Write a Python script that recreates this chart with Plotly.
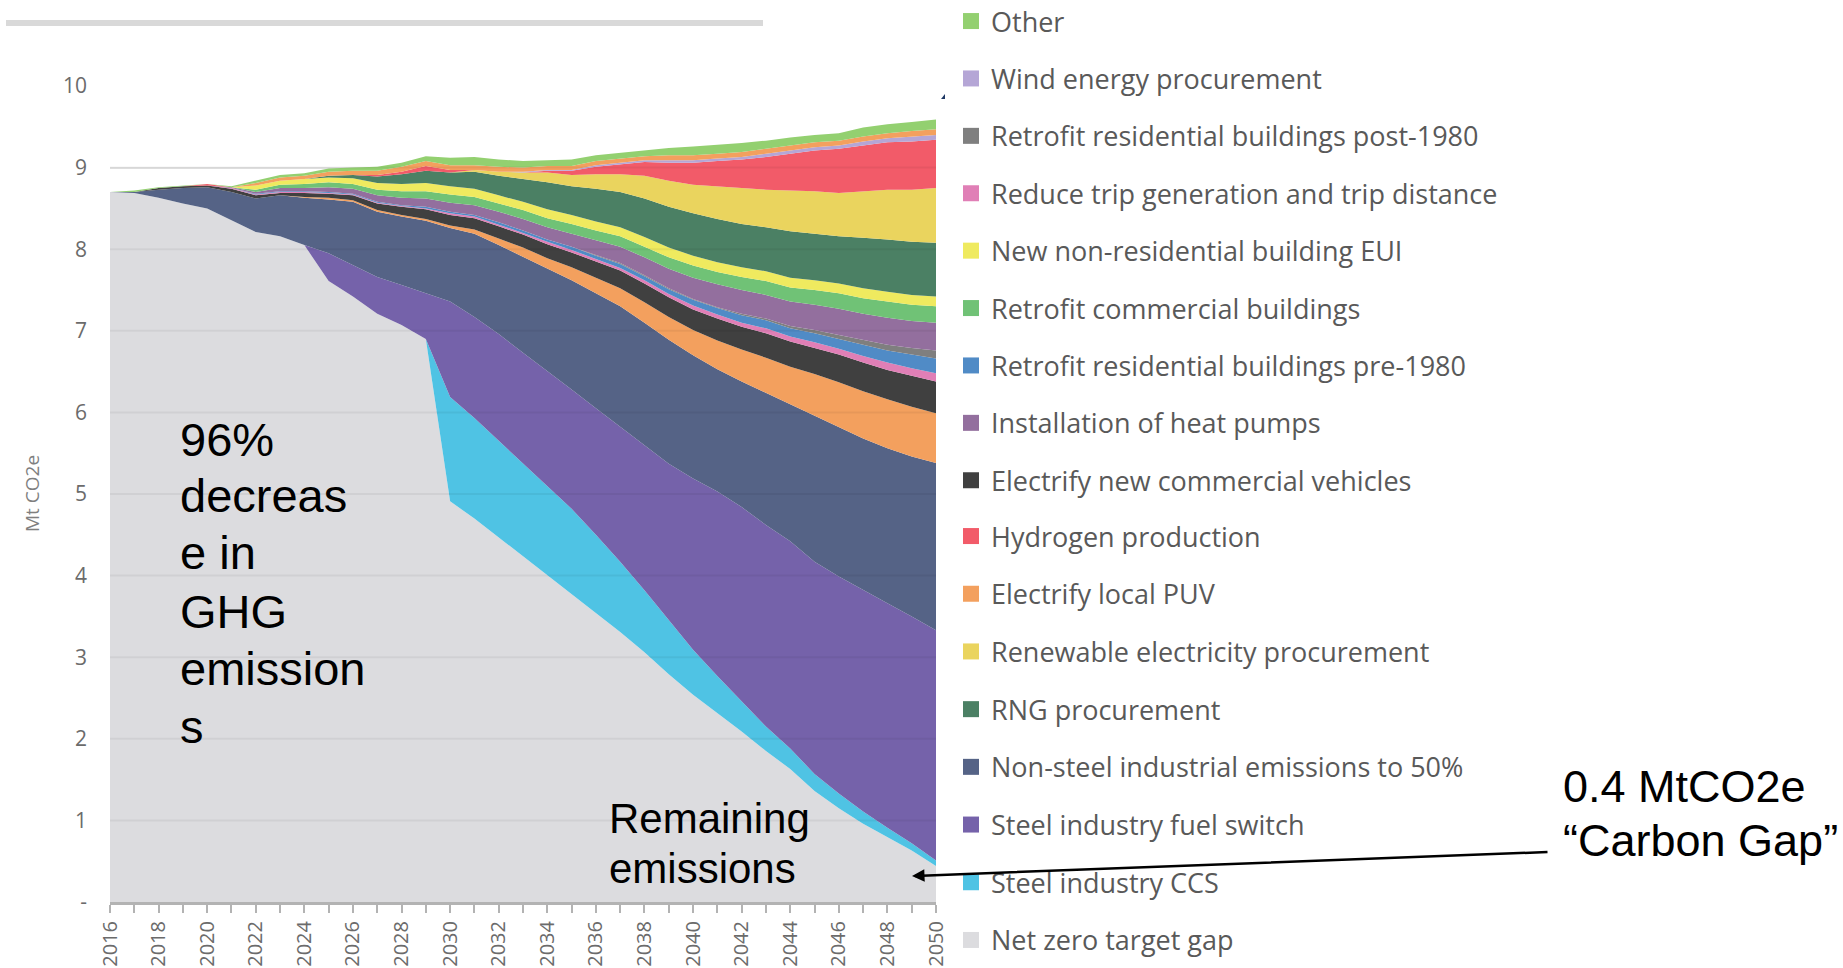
import plotly.graph_objects as go

W, H = 1843, 968

years = list(range(2016, 2051))

# Stacked layers, bottom to top (Mt CO2e per year, 2016-2050)
net_zero_gap = [8.70, 8.69, 8.63, 8.56, 8.50, 8.36, 8.21, 8.16, 8.05, 7.61, 7.42, 7.21, 7.07, 6.90,
                4.91, 4.70, 4.47, 4.24, 4.01, 3.78, 3.54, 3.31, 3.06, 2.79, 2.54, 2.32, 2.09, 1.85,
                1.63, 1.36, 1.15, 0.96, 0.79, 0.63, 0.44]
steel_ccs = [0]*14 + [1.28, 1.23, 1.18, 1.14, 1.09, 1.04, 0.96, 0.86, 0.76, 0.66, 0.55, 0.45, 0.37,
                      0.30, 0.25, 0.21, 0.18, 0.15, 0.12, 0.09, 0.07]
steel_fuel_switch = [0]*9 + [0.34, 0.38, 0.45, 0.49, 0.56, 1.17, 1.24, 1.31, 1.35, 1.41, 1.46, 1.55,
                             1.65, 1.78, 1.92, 2.10, 2.26, 2.38, 2.47, 2.54, 2.60, 2.66, 2.71, 2.75,
                             2.78, 2.82]
non_steel = [0, 0.01, 0.10, 0.19, 0.26, 0.34, 0.41, 0.50, 0.58, 0.66, 0.78, 0.80, 0.84, 0.89, 0.90,
             1.02, 1.09, 1.18, 1.25, 1.34, 1.41, 1.48, 1.50, 1.52, 1.51, 1.50, 1.54, 1.62, 1.68,
             1.79, 1.83, 1.86, 1.90, 1.96, 2.05]
electrify_puv = [0]*8 + [0.01, 0.02, 0.02, 0.02, 0.02, 0.02, 0.03, 0.05, 0.08, 0.11, 0.13, 0.16,
                         0.19, 0.22, 0.25, 0.28, 0.31, 0.35, 0.39, 0.43, 0.46, 0.51, 0.55, 0.58,
                         0.60, 0.61, 0.61]
electrify_comm_veh = [0, 0, 0.02, 0.02, 0.02, 0.04, 0.04, 0.03, 0.05, 0.05, 0.06, 0.08, 0.10, 0.12,
                      0.13, 0.14, 0.15, 0.16, 0.17, 0.18, 0.20, 0.22, 0.23, 0.24, 0.25, 0.27, 0.28,
                      0.30, 0.31, 0.32, 0.34, 0.35, 0.36, 0.38, 0.39]
reduce_trips = [0]*5 + [0.01]*9 + [0.02, 0.02, 0.02, 0.02, 0.03, 0.03, 0.03, 0.03, 0.04, 0.04, 0.05,
                                   0.05, 0.05, 0.06, 0.06, 0.07, 0.07, 0.08, 0.09, 0.09, 0.10]
retrofit_pre1980 = [0]*6 + [0.01]*7 + [0.02, 0.02, 0.02, 0.03, 0.03, 0.03, 0.04, 0.04, 0.05, 0.05,
                                       0.06, 0.07, 0.08, 0.09, 0.10, 0.10, 0.11, 0.12, 0.14, 0.15,
                                       0.17, 0.18]
retrofit_post1980 = [0]*20 + [0.01, 0.01, 0.01, 0.01, 0.01, 0.01, 0.02, 0.02, 0.03, 0.04, 0.05,
                              0.06, 0.07, 0.08, 0.10]
heat_pumps = [0]*5 + [0.01, 0.02, 0.04, 0.04, 0.06, 0.06, 0.08, 0.09, 0.10, 0.11, 0.12, 0.13, 0.14,
                      0.15, 0.16, 0.18, 0.20, 0.22, 0.24, 0.26, 0.28, 0.29, 0.29, 0.30, 0.31, 0.32,
                      0.32, 0.33, 0.33, 0.34]
retrofit_commercial = [0]*6 + [0.03, 0.04, 0.05, 0.06, 0.06, 0.07, 0.08, 0.09, 0.10, 0.10, 0.10,
                               0.11, 0.11, 0.12, 0.12, 0.13, 0.13, 0.14, 0.15, 0.15, 0.16, 0.17,
                               0.17, 0.18, 0.19, 0.19, 0.20, 0.20, 0.20]
new_nonres_eui = [0]*6 + [0.05, 0.05, 0.06, 0.06, 0.07, 0.08, 0.09, 0.10, 0.10, 0.10, 0.10, 0.10,
                          0.11, 0.11, 0.11, 0.11, 0.12, 0.12] + [0.12]*11
rng_procurement = [0]*9 + [0.02, 0.04, 0.08, 0.12, 0.15, 0.17, 0.21, 0.24, 0.28, 0.33, 0.35, 0.40,
                           0.43, 0.47, 0.50, 0.52, 0.53, 0.53, 0.54, 0.57, 0.57, 0.58, 0.62, 0.64,
                           0.65, 0.66]
renewable_electricity = [0]*15 + [0.02, 0.05, 0.08, 0.12, 0.14, 0.18, 0.22, 0.28, 0.32, 0.35, 0.40,
                                  0.44, 0.46, 0.50, 0.52, 0.53, 0.57, 0.61, 0.64, 0.67]
hydrogen = [0]*4 + [0.02, 0, 0, 0, 0, 0, 0, 0.02, 0.03, 0.06, 0.03, 0, 0, 0, 0.02, 0.05, 0.09, 0.12,
                    0.17, 0.22, 0.27, 0.31, 0.35, 0.40, 0.45, 0.50, 0.54, 0.56, 0.58, 0.59, 0.59]
wind_energy = [0]*17 + [0.01, 0.01, 0.01, 0.02, 0.02, 0.02, 0.03, 0.03, 0.03, 0.03, 0.04, 0.04,
                        0.04, 0.04, 0.05, 0.05, 0.06, 0.06]
unlabeled_orange = [0]*6 + [0.03, 0.04, 0.04, 0.05, 0.05, 0.05, 0.06, 0.06, 0.06, 0.06, 0.06, 0.05,
                            0.05, 0.05, 0.05, 0.05, 0.05, 0.06] + [0.06]*9 + [0.07, 0.07]
other = [0, 0.02, 0.01, 0.01, 0, 0.01, 0.03, 0.03, 0.03, 0.04, 0.04, 0.05, 0.05, 0.06, 0.09, 0.10,
         0.09, 0.08, 0.07, 0.08, 0.07, 0.07, 0.07, 0.09, 0.11, 0.11, 0.11, 0.10, 0.10, 0.09, 0.09,
         0.11, 0.11, 0.11, 0.12]

stack_names = ["Net zero target gap", "Steel industry CCS", "Steel industry fuel switch",
               "Non-steel industrial emissions to 50%", "Electrify local PUV",
               "Electrify new commercial vehicles", "Reduce trip generation and trip distance",
               "Retrofit residential buildings pre-1980", "Retrofit residential buildings post-1980",
               "Installation of heat pumps", "Retrofit commercial buildings",
               "New non-residential building EUI", "RNG procurement",
               "Renewable electricity procurement", "Hydrogen production",
               "Wind energy procurement", "(unlabelled)", "Other"]
stack_values = [net_zero_gap, steel_ccs, steel_fuel_switch, non_steel, electrify_puv,
                electrify_comm_veh, reduce_trips, retrofit_pre1980, retrofit_post1980, heat_pumps,
                retrofit_commercial, new_nonres_eui, rng_procurement, renewable_electricity,
                hydrogen, wind_energy, unlabeled_orange, other]
stack_colors = ["#dcdcdf", "#4fc3e4", "#7562aa", "#556386", "#f3a05e", "#404040", "#e07fb6",
                "#508bc6", "#7f7f7f", "#936f9e", "#70c276", "#efea5f", "#4b8064", "#ead45e",
                "#f25b69", "#b5a6d6", "#f3a05e", "#93d070"]

legend_order = ["Other", "Wind energy procurement", "Retrofit residential buildings post-1980",
                "Reduce trip generation and trip distance", "New non-residential building EUI",
                "Retrofit commercial buildings", "Retrofit residential buildings pre-1980",
                "Installation of heat pumps", "Electrify new commercial vehicles",
                "Hydrogen production", "Electrify local PUV", "Renewable electricity procurement",
                "RNG procurement", "Non-steel industrial emissions to 50%",
                "Steel industry fuel switch", "Steel industry CCS", "Net zero target gap"]

y_ticks = list(range(0, 11))
y_ticktext = ["-"] + [str(v) for v in range(1, 11)]
x_ticks = years[::2]

color_of = dict(zip(stack_names, stack_colors))

fig = go.Figure()
for name, vals, col in zip(stack_names, stack_values, stack_colors):
    fig.add_trace(go.Scatter(
        x=years, y=vals, name=name, stackgroup="one", mode="lines",
        line=dict(width=0, color=col), fillcolor=col, showlegend=False,
    ))

for i, name in enumerate(legend_order):
    fig.add_trace(go.Scatter(
        x=[None], y=[None], mode="markers", name=name,
        marker=dict(symbol="square", size=16, color=color_of[name], line=dict(width=0)),
        legend="legend" if i < 9 else "legend2", legendgroup=name, legendrank=i + 1,
        hoverinfo="skip",
    ))

def px(x):
    return x / W

def py(y):
    return 1 - y / H

legend_style = dict(
    xanchor="left", yanchor="top", traceorder="grouped",
    font=dict(family="Open Sans", size=27, color="#595959"),
    bgcolor="rgba(0,0,0,0)", borderwidth=0, itemclick=False, itemdoubleclick=False,
    maxheight=2000,
)

fig.update_layout(
    width=W, height=H,
    margin=dict(l=0, r=0, t=0, b=0, pad=0, autoexpand=False),
    paper_bgcolor="white", plot_bgcolor="white",
    showlegend=True,
    legend=dict(x=px(951), y=py(-3), tracegroupgap=19.3, **legend_style),
    legend2=dict(x=px(951), y=py(512), tracegroupgap=19.6, **legend_style),
    xaxis=dict(
        domain=[px(110), px(936)], range=[2016, 2050],
        tickmode="array", tickvals=x_ticks, ticktext=[str(v) for v in x_ticks],
        tickangle=-90, ticks="outside", ticklen=8, tickwidth=2, tickcolor="#b3b3b3",
        minor=dict(dtick=1, tick0=2016, ticks="outside", ticklen=8, tickwidth=2,
                   tickcolor="#b3b3b3", showgrid=False),
        showline=True, linecolor="#b3b3b3", linewidth=3,
        showgrid=False, zeroline=False,
        tickfont=dict(family="Open Sans", size=20, color="#6b6b6b"),
        fixedrange=True,
    ),
    yaxis=dict(
        domain=[py(902), py(86)], range=[0, 10],
        tickmode="array", tickvals=y_ticks, ticktext=y_ticktext,
        ticks="", showline=False, zeroline=False,
        showgrid=True, gridcolor="#e3e3e3", gridwidth=2,
        tickfont=dict(family="Open Sans", size=21, color="#6b6b6b"),
        ticklabelstandoff=22, fixedrange=True,
    ),
)

# gridlines visible through the areas
for v in y_ticks[1:10]:
    fig.add_shape(type="line", xref="x", yref="y", x0=2016, x1=2050, y0=v, y1=v,
                  line=dict(color="rgba(0,0,0,0.05)", width=2), layer="above")

# decorative bar at the top
fig.add_shape(type="rect", xref="paper", yref="paper", x0=px(6), x1=px(763),
              y0=py(26), y1=py(20), fillcolor="#d9d9d9", line=dict(width=0))
# tiny dark mark right of the plot top
fig.add_shape(type="path", xref="paper", yref="paper",
              path=f"M {px(941)},{py(99)} L {px(945)},{py(99)} L {px(945)},{py(94)} Z",
              fillcolor="#1f3864", line=dict(width=0))

big = dict(family="Liberation Sans, Arial", color="black")
ann = []
ann.append(dict(text="Mt CO2e", x=px(32), y=py(494), xref="paper", yref="paper",
                textangle=-90, showarrow=False, xanchor="center", yanchor="middle",
                font=dict(family="Open Sans", size=19, color="#7f7f7f")))
for txt, yc in zip(["96%", "decreas", "e in", "GHG", "emission", "s"],
                   [439, 496, 552, 611, 668, 726]):
    ann.append(dict(text=txt, x=px(178), y=py(yc), xref="paper", yref="paper", showarrow=False,
                    xanchor="left", yanchor="middle", font=dict(size=47, **big)))
for txt, yc in zip(["Remaining", "emissions"], [818, 868]):
    ann.append(dict(text=txt, x=px(607), y=py(yc), xref="paper", yref="paper", showarrow=False,
                    xanchor="left", yanchor="middle", font=dict(size=42, **big)))
for txt, yc in zip(["0.4 MtCO2e", "\u201cCarbon Gap\u201d"], [786, 840]):
    ann.append(dict(text=txt, x=px(1561), y=py(yc), xref="paper", yref="paper", showarrow=False,
                    xanchor="left", yanchor="middle", font=dict(size=45, **big)))
ann.append(dict(text="", x=px(912), y=py(876), xref="paper", yref="paper", showarrow=True,
                ax=637, ay=-24, arrowhead=2, arrowsize=1, arrowwidth=2.5, arrowcolor="black",
                standoff=0))
fig.update_layout(annotations=ann)

fig.write_html("out.html", config={"displayModeBar": False},
               post_script="document.body.style.margin='0';")
